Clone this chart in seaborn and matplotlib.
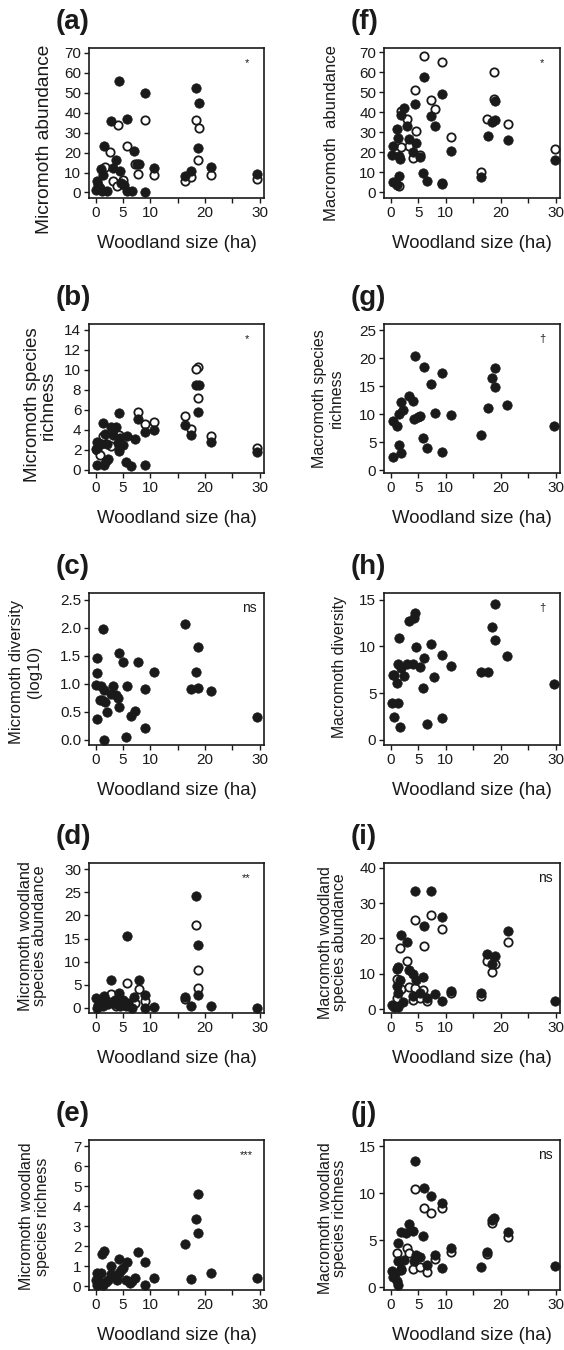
import numpy as np
import pandas as pd
import seaborn as sns
import matplotlib.pyplot as plt
from matplotlib import font_manager

# ---- data (woodland size in ha, response values) ----
# (a) micromoth abundance
a_fill_x = [4.2, 9.1, 2.8, 5.8, 1.6, 7.1, 3.8, 3.1, 7.6, 8.0, 10.7, 1.0, 4.4, 1.4, 0.2, 0.5, 0.05, 1.1, 2.0,
            4.7, 5.2, 5.7, 6.6, 9.0, 16.3, 17.5, 18.4, 18.9, 18.8, 21.1, 29.6]
a_fill_y = [56.1, 50.0, 35.7, 36.7, 23.5, 21.0, 16.3, 12.3, 14.1, 14.1, 12.3, 11.6, 10.9, 8.9, 5.5, 3.7, 1.3, 0.7, 0.7,
            4.7, 3.9, 0.7, 0.5, 0.3, 8.0, 10.6, 52.3, 44.8, 22.4, 12.8, 9.4]
a_open_x = [4.1, 9.1, 5.8, 2.7, 18.4, 18.9, 18.8, 1.7, 7.2, 7.8, 10.7, 16.3, 17.5, 21.1, 29.6, 3.2, 4.0, 0.8, 5.1]
a_open_y = [33.7, 36.5, 23.1, 20.1, 36.5, 32.3, 16.2, 12.9, 14.1, 9.4, 8.9, 5.5, 7.5, 8.9, 6.9, 5.5, 3.0, 2.2, 6.4]

# (b) micromoth species richness
b_fill_x = [0.2, 0.05, 0.3, 1.0, 1.3, 1.5, 1.9, 2.2, 1.7, 2.1, 2.8, 3.1, 3.8, 4.1, 4.2, 4.4, 4.2, 5.1, 5.5, 5.8,
            6.4, 7.2, 7.8, 9.0, 9.1, 10.7, 16.4, 17.5, 18.4, 18.9, 18.8, 21.1, 29.6]
b_fill_y = [2.73, 2.07, 0.5, 2.57, 4.73, 0.5, 0.9, 1.07, 3.57, 2.57, 4.23, 3.5, 4.23, 2.67, 5.67, 3.17, 1.83, 2.5, 0.73, 3.4,
            0.33, 3.07, 5.07, 0.5, 3.73, 4.0, 4.5, 3.43, 8.5, 8.5, 5.83, 2.77, 1.77]
b_open_x = [18.7, 18.4, 18.8, 16.4, 7.8, 9.1, 10.7, 17.5, 21.1, 29.6, 0.2, 0.8, 2.9, 4.3, 1.4]
b_open_y = [10.33, 10.1, 7.17, 5.43, 5.83, 4.6, 4.83, 4.1, 3.33, 2.17, 2.0, 1.5, 2.33, 3.5, 3.33]

# (c) micromoth diversity (log10)
c_x = [0.3, 0.2, 0.05, 0.3, 1.0, 1.3, 1.5, 0.8, 1.2, 1.7, 1.6, 2.1, 3.1, 2.9, 3.8, 4.1, 4.2, 4.3, 5.1, 5.7, 5.5,
       6.5, 7.2, 7.8, 9.1, 9.0, 10.7, 16.3, 17.4, 18.4, 18.8, 18.8, 21.1, 29.5]
c_y = [1.46, 1.20, 0.98, 0.37, 0.96, 1.98, 0.89, 0.71, 0.71, 0.67, 0.0, 0.49, 0.97, 0.82, 0.80, 0.74, 0.58, 1.55, 1.39,
       0.97, 0.05, 0.42, 0.52, 1.39, 0.91, 0.22, 1.21, 2.07, 0.91, 1.21, 0.93, 1.65, 0.88, 0.41]

# (d) micromoth woodland species abundance
d_fill_x = [18.4, 5.8, 18.8, 2.8, 7.9, 18.8, 16.4, 17.5, 21.1, 29.6, 10.7, 9.1, 9.0, 7.1, 6.6, 4.2, 5.1, 0.05, 0.5,
            0.2, 1.1, 1.4, 1.9, 2.3, 3.5, 3.8, 4.4, 5.5, 5.9, 1.5]
d_fill_y = [24.2, 15.5, 13.5, 6.1, 6.0, 2.7, 2.4, 0.36, 0.36, 0.1, 0.2, 2.7, 0.1, 2.4, 0.1, 3.2, 1.8, 2.2, 0.7,
            0.1, 1.8, 0.36, 1.4, 0.9, 1.8, 0.9, 0.36, 0.36, 1.1, 2.5]
d_open_x = [18.4, 18.8, 18.8, 5.8, 7.9, 9.1, 16.4, 2.8, 0.8, 7.2, 4.4, 3.8]
d_open_y = [18.0, 8.1, 4.3, 5.5, 4.1, 1.6, 1.9, 3.1, 1.2, 1.1, 1.8, 0.36]

# (e) micromoth woodland species richness
e_x = [0.2, 0.05, 0.3, 0.8, 1.0, 1.2, 1.6, 1.4, 1.9, 2.2, 2.8, 2.9, 3.8, 3.96, 4.2, 4.3, 4.7, 5.1, 5.5, 5.8,
       6.3, 6.6, 7.2, 7.8, 9.0, 9.1, 10.7, 16.4, 17.5, 18.4, 18.8, 18.8, 21.1, 29.6]
e_y = [0.63, 0.3, 0.05, 0.22, 0.63, 1.58, 1.77, 0.05, 0.18, 0.3, 1.0, 0.6, 0.47, 0.3, 1.37, 0.63, 0.8, 0.88, 0.3, 1.22,
       0.13, 0.27, 0.38, 1.72, 0.05, 1.18, 0.38, 2.08, 0.35, 3.35, 2.63, 4.6, 0.67, 0.4]

# (f) macromoth abundance
f_fill_x = [0.5, 0.2, 1.1, 1.3, 1.6, 1.7, 0.5, 1.1, 1.6, 1.8, 2.4, 3.0, 3.4, 4.1, 4.4, 4.7, 5.3, 5.8, 6.1, 6.7,
            7.3, 8.0, 9.3, 9.4, 10.9, 16.5, 17.7, 18.5, 18.9, 19.0, 21.3, 29.8]
f_fill_y = [23.0, 18.5, 31.7, 27.3, 18.3, 16.6, 5.0, 3.8, 8.0, 38.4, 42.0, 33.2, 26.8, 19.9, 44.3, 24.8, 17.5, 9.6, 57.5, 5.5,
            38.3, 33.2, 4.2, 49.0, 20.8, 7.7, 28.0, 35.0, 45.4, 36.0, 26.3, 16.3]
f_open_x = [6.1, 9.4, 18.8, 4.4, 18.8, 7.3, 8.0, 1.8, 3.0, 17.5, 21.3, 4.6, 10.9, 3.3, 1.8, 5.3, 4.1, 29.8, 16.5, 1.6, 9.3]
f_open_y = [67.9, 64.8, 59.8, 51.2, 46.8, 46.3, 41.8, 40.8, 36.7, 36.6, 34.1, 30.4, 27.7, 23.2, 22.5, 18.8, 17.1, 21.6,
            10.3, 3.3, 4.7]

# (g) macromoth species richness
g_x = [0.5, 0.4, 1.1, 1.6, 1.6, 1.8, 1.8, 2.3, 3.4, 4.1, 4.4, 4.2, 4.9, 5.3, 5.8, 6.0, 6.7, 7.3, 8.0, 9.3, 9.3,
       10.9, 16.5, 17.7, 18.5, 18.9, 18.9, 21.2, 29.7]
g_y = [2.4, 8.8, 7.9, 10.0, 4.6, 3.0, 12.2, 10.8, 13.3, 12.3, 20.4, 9.2, 9.5, 9.7, 5.8, 18.5, 4.0, 15.4, 10.3, 3.2, 17.3,
       9.9, 6.3, 11.1, 16.5, 18.2, 14.9, 11.7, 7.9]

# (h) macromoth diversity
h_x = [0.4, 0.2, 0.6, 0.7, 1.1, 1.3, 1.6, 1.4, 1.7, 1.8, 2.4, 3.0, 3.4, 4.1, 4.3, 4.5, 4.6, 5.3, 5.8, 6.1, 6.7,
       7.3, 7.9, 9.3, 9.3, 10.9, 16.5, 17.7, 18.5, 18.9, 18.9, 21.2, 29.7]
h_y = [6.96, 3.9, 2.5, 6.9, 6.1, 3.9, 10.9, 8.1, 1.4, 7.7, 6.8, 8.1, 12.75, 8.1, 13.0, 13.6, 9.9, 7.75, 5.6, 8.75, 1.7,
       10.3, 6.7, 9.1, 2.3, 7.9, 7.3, 7.3, 12.1, 14.5, 10.7, 9.0, 6.0]

# (i) macromoth woodland species abundance
i_fill_x = [4.5, 7.3, 9.4, 6.1, 21.3, 1.8, 3.0, 17.5, 18.9, 1.4, 3.3, 1.1, 4.1, 4.6, 5.8, 1.7, 1.1, 10.9, 8.0, 16.5,
            5.3, 4.1, 6.7, 9.3, 29.8, 0.2, 0.6, 1.4, 2.3, 18.5, 1.4]
i_fill_y = [33.6, 33.6, 26.1, 23.4, 22.2, 21.0, 18.9, 15.7, 15.1, 12.0, 11.2, 11.3, 10.0, 8.1, 9.0, 8.3, 6.4, 5.2, 4.3, 4.5,
            4.5, 3.6, 3.1, 2.4, 2.4, 1.1, 0.6, 0.6, 1.9, 12.8, 4.5]
i_open_x = [7.3, 4.4, 9.4, 21.3, 6.1, 1.7, 17.5, 18.9, 18.5, 3.0, 1.2, 1.8, 3.4, 4.5, 5.8, 4.1, 5.3, 6.7, 10.9, 16.5, 1.1]
i_open_y = [26.6, 25.3, 22.8, 18.9, 17.9, 17.3, 13.5, 12.8, 10.4, 13.5, 8.5, 5.7, 6.2, 6.1, 5.3, 2.6, 3.1, 2.2, 4.5, 3.8, 3.1]

# (j) macromoth woodland species richness
j_fill_x = [4.5, 6.1, 7.3, 9.4, 3.3, 1.8, 2.8, 4.1, 5.8, 1.4, 18.8, 18.4, 21.3, 10.9, 17.5, 8.0, 4.6, 5.3, 1.4, 2.4,
            4.2, 6.7, 9.3, 16.5, 29.8, 0.2, 0.5, 1.1, 1.4, 1.8, 0.8]
j_fill_y = [13.45, 10.5, 9.7, 9.0, 6.7, 5.9, 5.8, 6.0, 5.5, 4.7, 7.4, 7.1, 5.9, 4.2, 3.8, 3.45, 3.45, 3.2, 2.85, 2.9,
            2.85, 2.4, 2.1, 2.2, 2.3, 1.7, 1.15, 0.7, 0.3, 1.8, 1.4]
j_open_x = [4.4, 6.1, 7.3, 9.4, 18.5, 21.3, 10.9, 17.5, 8.0, 3.0, 1.2, 3.3, 1.8, 4.1, 5.3, 6.7]
j_open_y = [10.4, 8.4, 7.9, 8.4, 6.8, 5.3, 3.8, 3.5, 3.0, 4.2, 3.6, 3.6, 1.95, 1.95, 2.2, 1.65]

x_ticks = [0, 5, 10, 15, 20, 25, 30]
x_tick_labels = ['0', '5', '10', '', '20', '', '30']

sns.set_style('ticks')
fams = {f.name for f in font_manager.fontManager.ttflist}
base_font = 'Liberation Sans' if 'Liberation Sans' in fams else 'DejaVu Sans'
label_font = 'Liberation Sans Narrow' if 'Liberation Sans Narrow' in fams else base_font
plt.rcParams['font.family'] = [base_font, 'DejaVu Sans']

W, H = 564, 1350
fig = plt.figure(figsize=(W / 100, H / 100), dpi=100)
INK = '#1a1a1a'


def make_axes(left, top, width, height):
    return fig.add_axes([left / W, 1 - (top + height) / H, width / W, height / H])


def draw_panel(ax, letter, fill_x, fill_y, open_x, open_y, ylim, yticks, ylabel, ylab_size, ylab_pos,
               sig, ylab_ls=1.0, yfmt=None):
    if open_x is not None:
        sns.scatterplot(x=open_x, y=open_y, ax=ax, color='white', edgecolor=INK,
                        linewidth=1.3, s=36, zorder=3, legend=False)
    sns.scatterplot(x=fill_x, y=fill_y, ax=ax, color=INK, edgecolor=INK,
                    linewidth=0.5, s=46, zorder=4, legend=False)
    ax.set_xlim(-1.2, 30.8)
    ax.set_ylim(*ylim)
    ax.set_xticks(x_ticks)
    ax.set_xticklabels(x_tick_labels)
    ax.set_yticks(yticks)
    if yfmt:
        ax.set_yticklabels([yfmt % t for t in yticks])
    ax.tick_params(direction='out', length=3.5, width=1, labelsize=11, pad=2, colors=INK)
    for sp in ax.spines.values():
        sp.set_visible(True)
        sp.set_linewidth(1.2)
        sp.set_color(INK)
    ax.set_xlabel('Woodland size (ha)', fontsize=13.4, labelpad=11, color=INK)
    ax.set_ylabel(ylabel, fontsize=ylab_size, color=INK, linespacing=ylab_ls)
    ax.yaxis.set_label_coords(*ylab_pos)
    ax.text(0.9 if sig != 'ns' else 0.915, 0.9, sig, transform=ax.transAxes, ha='center', va='center',
            fontsize=10 if sig == 'ns' else 8, color=INK)
    h_px = ax.get_position().height * H
    ax.text(-0.19, 1 + 26 / h_px, '(' + letter + ')', transform=ax.transAxes, fontsize=20, fontweight='bold',
            family=label_font, ha='left', va='center', color=INK)


rows_top = [48, 324, 593, 863, 1140]
rows_h = [150, 149, 152, 150, 150]
L_left, L_w = 89, 175
R_left, R_w = 384, 176

ax = make_axes(L_left, rows_top[0], L_w, rows_h[0])
draw_panel(ax, 'a', a_fill_x, a_fill_y, a_open_x, a_open_y, (-2.8, 72.5), range(0, 71, 10),
           'Micromoth abundance', 13.8, (-0.206, 0.393), '*')
ax = make_axes(L_left, rows_top[1], L_w, rows_h[1])
draw_panel(ax, 'b', b_fill_x, b_fill_y, b_open_x, b_open_y, (-0.33, 14.6), range(0, 15, 2),
           'Micromoth species\nrichness', 13.4, (-0.183, 0.456), '*', ylab_ls=0.9)
ax = make_axes(L_left, rows_top[2], L_w, rows_h[2])
draw_panel(ax, 'c', c_x, c_y, None, None, (-0.09, 2.62), [0, 0.5, 1.0, 1.5, 2.0, 2.5],
           'Micromoth diversity\n(log10)', 12, (-0.27, 0.48), 'ns', ylab_ls=1.25, yfmt='%.1f')
ax = make_axes(L_left, rows_top[3], L_w, rows_h[3])
draw_panel(ax, 'd', d_fill_x, d_fill_y, d_open_x, d_open_y, (-1.08, 31.3), range(0, 31, 5),
           'Micromoth woodland\nspecies abundance', 11.7, (-0.24, 0.513), '**', ylab_ls=0.95)
ax = make_axes(L_left, rows_top[4], L_w, rows_h[4])
draw_panel(ax, 'e', e_x, e_y, None, None, (-0.2, 7.3), range(0, 8),
           'Micromoth woodland\nspecies richness', 11.5, (-0.223, 0.49), '***', ylab_ls=1.05)

ax = make_axes(R_left, rows_top[0], R_w, rows_h[0])
draw_panel(ax, 'f', f_fill_x, f_fill_y, f_open_x, f_open_y, (-2.8, 72), range(0, 71, 10),
           'Macromoth  abundance', 12, (-0.256, 0.433), '*')
ax = make_axes(R_left, rows_top[1], R_w, rows_h[1])
draw_panel(ax, 'g', g_x, g_y, None, None, (-0.48, 26.1), range(0, 26, 5),
           'Macromoth species\nrichness', 11.5, (-0.227, 0.50), '\u2020', ylab_ls=1.2)
ax = make_axes(R_left, rows_top[2], R_w, rows_h[2])
draw_panel(ax, 'h', h_x, h_y, None, None, (-0.54, 15.7), [0, 5, 10, 15],
           'Macromoth diversity', 11.4, (-0.21, 0.51), '\u2020')
ax = make_axes(R_left, rows_top[3], R_w, rows_h[3])
draw_panel(ax, 'i', i_fill_x, i_fill_y, i_open_x, i_open_y, (-1.13, 41.4), range(0, 41, 10),
           'Macromoth woodland\nspecies abundance', 11.5, (-0.21, 0.47), 'ns', ylab_ls=0.95)
ax = make_axes(R_left, rows_top[4], R_w, rows_h[4])
draw_panel(ax, 'j', j_fill_x, j_fill_y, j_open_x, j_open_y, (-0.28, 15.64), [0, 5, 10, 15],
           'Macromoth woodland\nspecies richness', 11.4, (-0.21, 0.48), 'ns', ylab_ls=0.95)

fig.savefig('out.png', dpi=100, facecolor='white')
